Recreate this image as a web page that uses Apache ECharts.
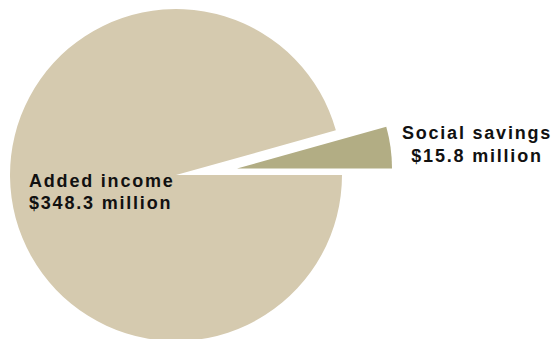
<!DOCTYPE html>
<html>
<head>
<meta charset="utf-8">
<script src="https://cdn.jsdelivr.net/npm/echarts@6/dist/echarts.min.js"></script>
<style>
  html, body { margin: 0; padding: 0; background: #ffffff; }
  #chart { width: 553px; height: 339px; }
  #chart text { letter-spacing: 1.8px; }
</style>
</head>
<body>
<div id="chart"></div>
<script>
// ---- data ----
const categories = ['Social savings', 'Added income'];
const values = [15.8, 348.3];          // $ million
const units = ['million', 'million'];

// ---- styles ----
const COLORS = ['#B2AD84', '#D5CAAF'];
const TRANSPARENT = 'rgba(0,0,0,0)';
const total = values.reduce((a, b) => a + b, 0);
const startAngle = 360 * values[0] / total;

const labelStyle = {
  fontFamily: 'Liberation Sans, Arial, sans-serif',
  fontWeight: 'bold',
  fontSize: 18,
  color: '#111111',
  formatter: p => p.name + '\n$' + p.value + ' ' + units[p.dataIndex]
};

function buildData(visibleIndex) {
  return categories.map((c, i) => ({
    name: c,
    value: values[i],
    itemStyle: { color: i === visibleIndex ? COLORS[i] : TRANSPARENT },
    label: { show: i === visibleIndex }
  }));
}

const chart = echarts.init(document.getElementById('chart'), null, { renderer: 'svg' });
chart.setOption({
  animation: false,
  backgroundColor: '#ffffff',
  series: [
    {
      type: 'pie',
      silent: true,
      center: [176, 175],
      radius: 166,
      startAngle: startAngle,
      clockwise: true,
      avoidLabelOverlap: false,
      labelLine: { show: false },
      label: Object.assign({ position: 'inside', lineHeight: 22 }, labelStyle),
      labelLayout: () => ({ x: 29, y: 170, align: 'left', verticalAlign: 'top' }),
      data: buildData(1)
    },
    {
      type: 'pie',
      silent: true,
      center: [237, 168.5],
      radius: 155,
      startAngle: startAngle,
      clockwise: true,
      avoidLabelOverlap: false,
      labelLine: { show: false },
      label: Object.assign({ position: 'inside', lineHeight: 23 }, labelStyle),
      labelLayout: () => ({ x: 477, y: 121, align: 'center', verticalAlign: 'top' }),
      data: buildData(0)
    }
  ]
});
</script>
</body>
</html>
